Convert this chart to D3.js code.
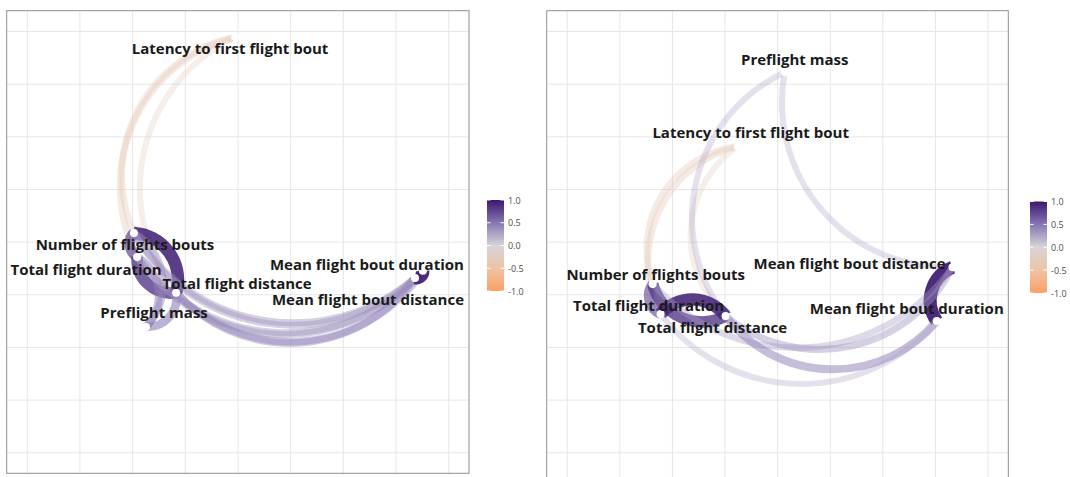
<!DOCTYPE html>
<html><head><meta charset="utf-8">
<script src="https://cdn.jsdelivr.net/npm/d3@7"></script>
<style>
body{margin:0;background:#fff;}
svg text{font-family:"Open Sans","Noto Sans",sans-serif;}
</style></head><body>
<svg id="chart" width="1070" height="477"></svg>
<script>
// ---------------- DATA ----------------
const nodeLabels = ["Latency to first flight bout","Number of flights bouts","Total flight duration",
  "Total flight distance","Preflight mass","Mean flight bout duration","Mean flight bout distance"];

// Left panel: node coordinates (MDS space)
const leftNodeX = [-0.011,-0.395,-0.383,-0.235,-0.349,0.702,0.672];
const leftNodeY = [0.779, 0.035,-0.056,-0.192,-0.322,-0.109,-0.136];
// Left panel edges (index into nodeLabels) and correlations
const leftEdgeFrom = [0,0,0,1,3,2,4,4,4,1,1,2,2,3,3,6];
const leftEdgeTo   = [1,2,3,2,1,3,1,2,3,5,6,5,6,5,6,5];
const leftEdgeR    = [-0.3,-0.3,-0.25,0.7,0.9,0.8,0.4,0.45,0.5,0.35,0.35,0.35,0.35,0.4,0.4,0.95];

// Right panel
const rightNodeX = [-0.152,-0.475,-0.445,-0.198,0.027,0.605,0.665];
const rightNodeY = [0.364,-0.159,-0.273,-0.281,0.645,-0.300,-0.095];
const rightEdgeFrom = [0,0,0,4,4,1,1,3,6,1,3,2,3];
const rightEdgeTo   = [1,2,3,3,6,2,3,2,5,6,5,5,6];
const rightEdgeR    = [-0.3,-0.3,-0.25,0.25,0.25,0.65,0.8,0.9,0.95,0.3,0.45,0.25,0.35];

// Legend
const legendValues = [1.0,0.5,0.0,-0.5,-1.0];
const legendLabels = ["1.0","0.5","0.0","-0.5","-1.0"];

// ---------------- LAYOUT ----------------
const svg = d3.select("#chart");
const colorStops = [-1,-0.5,0,0.5,1];
const colorRange = ["#FCA064","#EEC3A6","#D7D4D8","#8676B3","#3B186E"];
const color = d3.scaleLinear().domain(colorStops).range(colorRange);

const panels = [
  {left:6.7, top:10.7, w:462.3, h:462.6, bottomExtra:0, nx:leftNodeX, ny:leftNodeY,
   ef:leftEdgeFrom, et:leftEdgeTo, er:leftEdgeR,
   lab:[[-5,11],[-9,11],[-51,12],[61,-10],[8,-15],[-56,-7],[-47,21]],
   legend:{x:487, y:200, w:17, h:91}},
  {left:546.7, top:10.7, w:461.6, h:462.6, bottomExtra:8, nx:rightNodeX, ny:rightNodeY,
   ef:rightEdgeFrom, et:rightEdgeTo, er:rightEdgeR,
   lab:[[13,-14],[3,-10],[-12,-9],[-13,11],[10,-13],[-30,-13],[-103,-4]],
   legend:{x:1030, y:201.5, w:17, h:91.5}}
];

function arcPath(x1,y1,x2,y2,k){
  const c = Math.hypot(x2-x1,y2-y1);
  const s = k*c;
  const R = (c*c/4 + s*s)/(2*s);
  return `M${x1},${y1}A${R},${R} 0 0 0 ${x2},${y2}`;
}

const defs = svg.append("defs");

panels.forEach((p,pi)=>{
  const x = d3.scaleLinear().domain([-0.878,0.877]).range([p.left, p.left+p.w]);
  const y = d3.scaleLinear().domain([-0.878,0.879]).range([p.top+p.h, p.top]);
  const g = svg.append("g");
  const clipId = "clip"+pi;
  defs.append("clipPath").attr("id",clipId).append("rect")
    .attr("x",p.left).attr("y",p.top).attr("width",p.w).attr("height",p.h+p.bottomExtra);
  // grid
  const ticks = d3.range(-0.8,0.81,0.2);
  g.append("g").selectAll("line").data(ticks).join("line")
    .attr("x1",d=>x(d)).attr("x2",d=>x(d)).attr("y1",p.top).attr("y2",p.top+p.h+p.bottomExtra)
    .attr("stroke","#e6e6e6").attr("stroke-width",1);
  g.append("g").selectAll("line").data(ticks).join("line")
    .attr("y1",d=>y(d)).attr("y2",d=>y(d)).attr("x1",p.left).attr("x2",p.left+p.w)
    .attr("stroke","#e6e6e6").attr("stroke-width",1);
  // edges
  const edges = p.ef.map((f,i)=>({f, t:p.et[i], r:p.er[i]}));
  g.append("g").attr("clip-path",`url(#${clipId})`).selectAll("path").data(edges).join("path")
    .attr("d",e=>arcPath(x(p.nx[e.f]),y(p.ny[e.f]),x(p.nx[e.t]),y(p.ny[e.t]),0.24))
    .attr("fill","none")
    .attr("stroke",e=>color(e.r))
    .attr("stroke-opacity",e=>0.12+0.88*Math.abs(e.r))
    .attr("stroke-width",e=>3.5+10*Math.abs(e.r))
    .attr("stroke-linecap","butt");
  // points
  g.append("g").selectAll("circle").data(p.nx).join("circle")
    .attr("cx",(d,i)=>x(p.nx[i])).attr("cy",(d,i)=>y(p.ny[i])).attr("r",4).attr("fill","#fff");
  // labels
  g.append("g").selectAll("text").data(nodeLabels).join("text")
    .attr("x",(d,i)=>x(p.nx[i])+p.lab[i][0]).attr("y",(d,i)=>y(p.ny[i])+p.lab[i][1])
    .attr("text-anchor","middle").attr("dominant-baseline","central")
    .attr("font-size",15).attr("font-weight","bold").attr("fill","#1a1a1a")
    .text(d=>d);
  // border
  g.append("rect").attr("x",p.left).attr("y",p.top).attr("width",p.w).attr("height",p.h+p.bottomExtra)
    .attr("fill","none").attr("stroke","#8f8f8f").attr("stroke-width",1);
  // legend
  const L = p.legend;
  const gradId = "grad"+pi;
  const grad = defs.append("linearGradient").attr("id",gradId).attr("x1",0).attr("x2",0).attr("y1",1).attr("y2",0);
  d3.range(0,1.001,0.05).forEach(t=>{
    grad.append("stop").attr("offset",t).attr("stop-color",color(-1+2*t));
  });
  const ly = d3.scaleLinear().domain([-1,1]).range([L.y+L.h, L.y]);
  const lg = svg.append("g");
  lg.append("rect").attr("x",L.x).attr("y",L.y).attr("width",L.w).attr("height",L.h).attr("fill",`url(#${gradId})`);
  lg.selectAll("line.tl").data(legendValues).join("line").attr("class","tl")
    .attr("x1",L.x).attr("x2",L.x+3.5).attr("y1",d=>ly(d)).attr("y2",d=>ly(d))
    .attr("stroke","#fff").attr("stroke-width",1);
  lg.selectAll("line.tr").data(legendValues).join("line").attr("class","tr")
    .attr("x1",L.x+L.w-3.5).attr("x2",L.x+L.w).attr("y1",d=>ly(d)).attr("y2",d=>ly(d))
    .attr("stroke","#fff").attr("stroke-width",1);
  lg.selectAll("text").data(legendValues).join("text")
    .attr("x",L.x+L.w+4).attr("y",d=>ly(d)).attr("dominant-baseline","central")
    .attr("font-size",9).attr("fill","#4d4d4d")
    .text((d,i)=>legendLabels[i]);
});
</script>
</body></html>
